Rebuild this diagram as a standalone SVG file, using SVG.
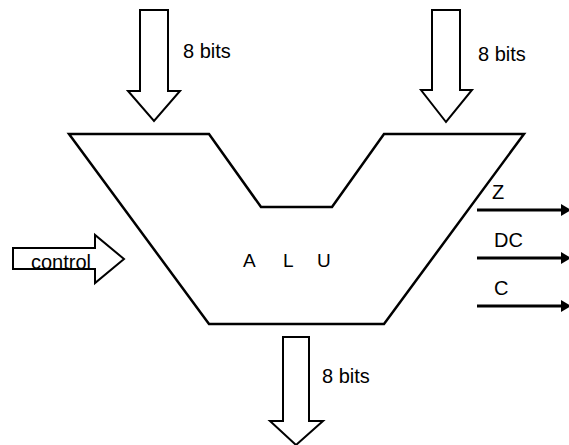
<svg xmlns="http://www.w3.org/2000/svg" width="569" height="445" viewBox="0 0 569 445">
  <defs>
    <marker id="head" markerWidth="10" markerHeight="12" refX="1" refY="6" orient="auto" markerUnits="userSpaceOnUse">
      <path d="M0,0 L10,6 L0,12 Z" fill="#000"/>
    </marker>
  </defs>
  <style>
    .outline { fill: #fff; stroke: #000; stroke-width: 2.5; stroke-linejoin: miter; }
    .bus { fill: #fff; stroke: #000; stroke-width: 2; stroke-linejoin: miter; }
    .flag { stroke: #000; stroke-width: 3; fill: none; }
    text { font-family: "Liberation Sans", Arial, sans-serif; fill: #000; }
    .lbl { font-size: 20px; }
    .unit { font-size: 19px; }
  </style>

  <rect width="569" height="445" fill="#fff"/>

  <!-- ALU body -->
  <g id="alu">
    <path class="outline" d="M69,134 L209,134 L261,207 L332,207 L384,134 L524,134 L384,324 L209,324 Z"/>
    <text class="unit" x="243" y="267">A</text>
    <text class="unit" x="283" y="267">L</text>
    <text class="unit" x="317" y="267">U</text>
  </g>

  <!-- operand A input bus -->
  <g id="bus-a">
    <path class="bus" d="M140,10 L168,10 L168,91 L180,91 L154,121 L128,91 L140,91 Z"/>
    <text class="lbl" x="183" y="58">8 bits</text>
  </g>

  <!-- operand B input bus -->
  <g id="bus-b">
    <path class="bus" d="M432,10 L460,10 L460,90 L472,90 L446,122 L421,90 L432,90 Z"/>
    <text class="lbl" x="478" y="61">8 bits</text>
  </g>

  <!-- result output bus -->
  <g id="bus-out">
    <path class="bus" d="M283,337 L309,337 L309,421 L323,421 L296,445 L270,421 L283,421 Z"/>
    <text class="lbl" x="322" y="383">8 bits</text>
  </g>

  <!-- control input -->
  <g id="control">
    <path class="bus" d="M13,248 L95,248 L95,235 L124,259 L95,283 L95,269 L13,269 Z"/>
    <text class="lbl" x="31" y="269">control</text>
  </g>

  <!-- status flag outputs -->
  <g id="connectors">
    <line class="flag" x1="477" y1="210" x2="562" y2="210" marker-end="url(#head)"/>
    <line class="flag" x1="477" y1="258" x2="562" y2="258" marker-end="url(#head)"/>
    <line class="flag" x1="477" y1="306" x2="562" y2="306" marker-end="url(#head)"/>
  </g>
  <g id="flag-z"><text class="lbl" x="492" y="199">Z</text></g>
  <g id="flag-dc"><text class="lbl" x="494" y="247">DC</text></g>
  <g id="flag-c"><text class="lbl" x="494" y="295">C</text></g>
</svg>
